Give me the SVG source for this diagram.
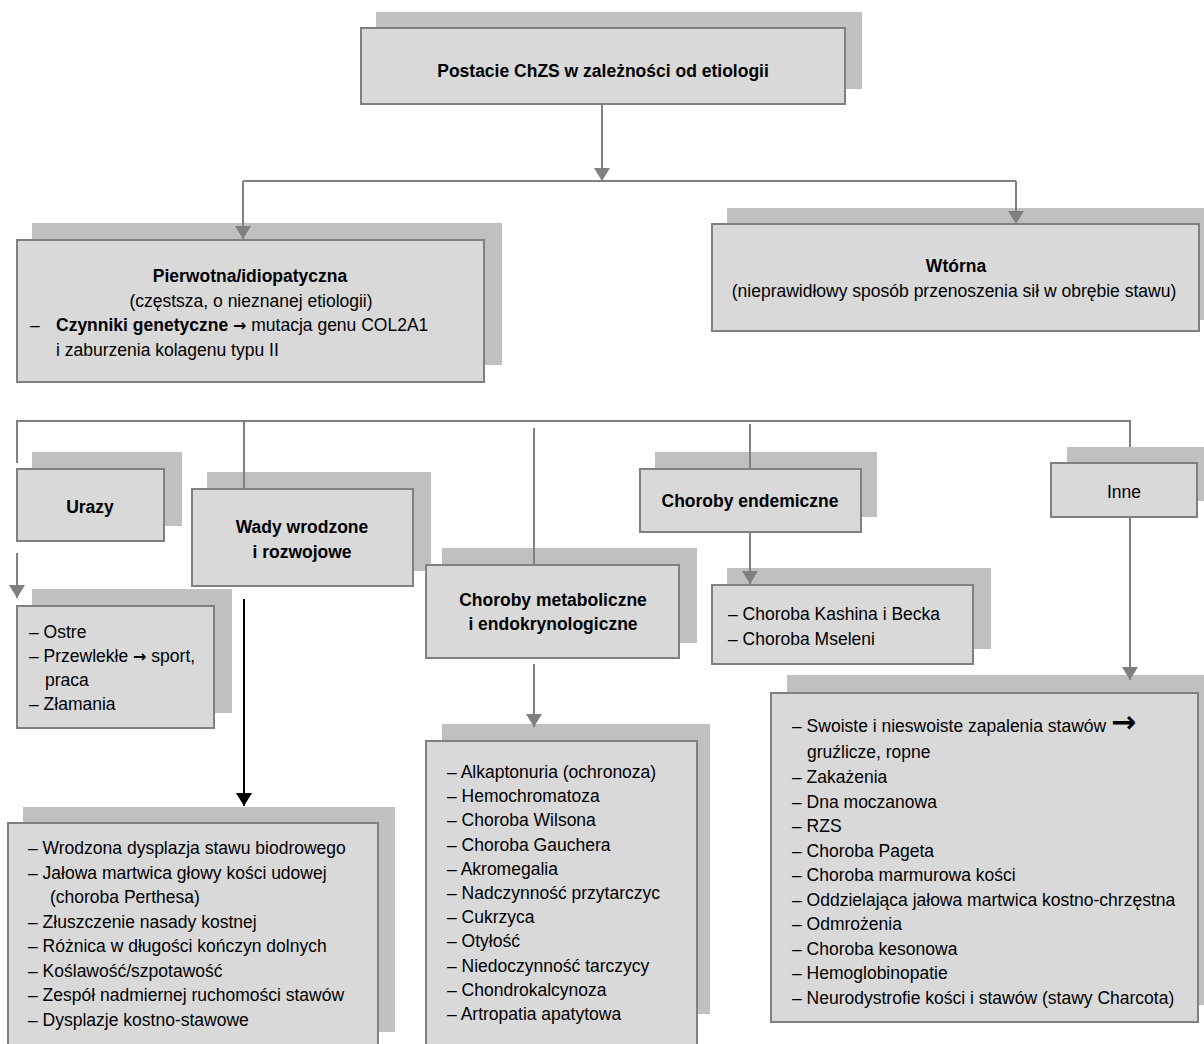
<svg xmlns="http://www.w3.org/2000/svg" width="1204" height="1044" viewBox="0 0 1204 1044">
<style>
.sh{fill:#c0c0c0}
.bx{fill:#d9d9d9;stroke:#808080;stroke-width:2}
.ln{fill:none;stroke:#808080;stroke-width:2}
.lk{fill:none;stroke:#000;stroke-width:2}
text{font-family:'Liberation Sans',Arial,sans-serif;font-size:17.5px;fill:#000}
.b{font-weight:bold}
.c{text-anchor:middle}
.ar{font-family:'DejaVu Sans',sans-serif;font-weight:bold}
</style>
<defs>
<marker id="ag" markerUnits="userSpaceOnUse" markerWidth="14" markerHeight="16" refX="13" refY="8" orient="auto"><path d="M0,0 L13,8 L0,16 z" fill="#808080"/></marker>
<marker id="ak" markerUnits="userSpaceOnUse" markerWidth="14" markerHeight="16" refX="13" refY="8" orient="auto"><path d="M0,0 L13,8 L0,16 z" fill="#000"/></marker>
</defs>
<rect width="1204" height="1044" fill="#fff"/>
<g id="root">
<rect class="sh" x="376" y="12" width="486" height="77"/>
<rect class="bx" x="361" y="28" width="484" height="76"/>
<text class="b c" x="603" y="77">Postacie ChZS w zależności od etiologii</text>
</g>
<g id="pierwotna">
<rect class="sh" x="32" y="223" width="470" height="142"/>
<rect class="bx" x="17" y="240" width="467" height="142"/>
<text class="b c" x="250" y="282">Pierwotna/idiopatyczna</text>
<text class="c" x="251" y="307">(częstsza, o nieznanej etiologii)</text>
<text x="30" y="331">–<tspan x="56" class="b">Czynniki genetyczne </tspan><tspan class="ar" font-size="16">→</tspan> mutacja genu COL2A1</text>
<text x="56" y="356">i zaburzenia kolagenu typu II</text>
</g>
<g id="wtorna">
<rect class="sh" x="727" y="208" width="477" height="112"/>
<rect class="bx" x="712" y="224" width="487" height="107"/>
<text class="b c" x="956" y="272">Wtórna</text>
<text class="c" x="954" y="297">(nieprawidłowy sposób przenoszenia sił w obrębie stawu)</text>
</g>
<g id="urazy">
<rect class="sh" x="32" y="452" width="150" height="74"/>
<rect class="bx" x="17" y="469" width="147" height="72"/>
<text class="b c" x="90" y="513">Urazy</text>
</g>
<g id="urazy-list">
<rect class="sh" x="32" y="589" width="200" height="124"/>
<rect class="bx" x="17" y="606" width="197" height="122"/>
<text x="29" y="638">– Ostre</text>
<text x="29" y="662">– Przewlekłe <tspan class="ar" font-size="16">→</tspan> sport,</text>
<text x="45" y="686">praca</text>
<text x="29" y="710">– Złamania</text>
</g>
<g id="wady">
<rect class="sh" x="207" y="472" width="224" height="99"/>
<rect class="bx" x="192" y="489" width="221" height="97"/>
<text class="b c" x="302" y="533">Wady wrodzone</text>
<text class="b c" x="302" y="558">i rozwojowe</text>
</g>
<g id="wady-list">
<rect class="sh" x="23" y="807" width="372" height="225"/>
<rect class="bx" x="8" y="823" width="370" height="232"/>
<text x="28" y="854">– Wrodzona dysplazja stawu biodrowego</text>
<text x="28" y="878.5">– Jałowa martwica głowy kości udowej</text>
<text x="50" y="903">(choroba Perthesa)</text>
<text x="28" y="927.5">– Złuszczenie nasady kostnej</text>
<text x="28" y="952">– Różnica w długości kończyn dolnych</text>
<text x="28" y="976.5">– Koślawość/szpotawość</text>
<text x="28" y="1001">– Zespół nadmiernej ruchomości stawów</text>
<text x="28" y="1025.5">– Dysplazje kostno-stawowe</text>
</g>
<g id="metaboliczne">
<rect class="sh" x="442" y="548" width="255" height="95"/>
<rect class="bx" x="426" y="565" width="253" height="93"/>
<text class="b c" x="553" y="606">Choroby metaboliczne</text>
<text class="b c" x="553" y="630">i endokrynologiczne</text>
</g>
<g id="metaboliczne-list">
<rect class="sh" x="442" y="724" width="268" height="290"/>
<rect class="bx" x="426" y="741" width="271" height="312"/>
<text x="447" y="778">– Alkaptonuria (ochronoza)</text>
<text x="447" y="802.2">– Hemochromatoza</text>
<text x="447" y="826.4">– Choroba Wilsona</text>
<text x="447" y="850.6">– Choroba Gauchera</text>
<text x="447" y="874.8">– Akromegalia</text>
<text x="447" y="899">– Nadczynność przytarczyc</text>
<text x="447" y="923.2">– Cukrzyca</text>
<text x="447" y="947.4">– Otyłość</text>
<text x="447" y="971.6">– Niedoczynność tarczycy</text>
<text x="447" y="995.8">– Chondrokalcynoza</text>
<text x="447" y="1020">– Artropatia apatytowa</text>
</g>
<g id="endemiczne">
<rect class="sh" x="655" y="452" width="222" height="65"/>
<rect class="bx" x="640" y="469" width="221" height="63"/>
<text class="b c" x="750" y="507">Choroby endemiczne</text>
</g>
<g id="endemiczne-list">
<rect class="sh" x="727" y="568" width="264" height="81"/>
<rect class="bx" x="712" y="585" width="261" height="79"/>
<text x="728" y="620">– Choroba Kashina i Becka</text>
<text x="728" y="645">– Choroba Mseleni</text>
</g>
<g id="inne">
<rect class="sh" x="1067" y="447" width="137" height="54"/>
<rect class="bx" x="1051" y="463" width="146" height="54"/>
<text class="c" x="1124" y="498">Inne</text>
</g>
<g id="inne-list">
<rect class="sh" x="787" y="675" width="417" height="330"/>
<rect class="bx" x="771" y="693" width="427" height="329"/>
<text x="792" y="732">– Swoiste i nieswoiste zapalenia stawów <tspan class="ar" font-size="30">→</tspan></text>
<text x="807" y="758">gruźlicze, ropne</text>
<text x="792" y="783">– Zakażenia</text>
<text x="792" y="808">– Dna moczanowa</text>
<text x="792" y="832">– RZS</text>
<text x="792" y="857">– Choroba Pageta</text>
<text x="792" y="881">– Choroba marmurowa kości</text>
<text x="792" y="906">– Oddzielająca jałowa martwica kostno-chrzęstna</text>
<text x="792" y="930">– Odmrożenia</text>
<text x="792" y="955">– Choroba kesonowa</text>
<text x="792" y="979">– Hemoglobinopatie</text>
<text x="792" y="1004">– Neurodystrofie kości i stawów (stawy Charcota)</text>
</g>
<g id="connectors">
<path class="ln" d="M602,104 V181" marker-end="url(#ag)"/>
<path class="ln" d="M243,181 H1016"/>
<path class="ln" d="M243,181 V239" marker-end="url(#ag)"/>
<path class="ln" d="M1016,181 V224" marker-end="url(#ag)"/>
<path class="ln" d="M17,463 V421 H1130 V447"/>
<path class="ln" d="M244,421 V489"/>
<path class="ln" d="M534,428 V565"/>
<path class="ln" d="M750,424 V469"/>
<path class="ln" d="M17,553 V598" marker-end="url(#ag)"/>
<path class="lk" d="M244,599 V806" marker-end="url(#ak)"/>
<path class="ln" d="M534,664 V727" marker-end="url(#ag)"/>
<path class="ln" d="M750,532 V584" marker-end="url(#ag)"/>
<path class="ln" d="M1130,517 V680" marker-end="url(#ag)"/>
</g>
</svg>
